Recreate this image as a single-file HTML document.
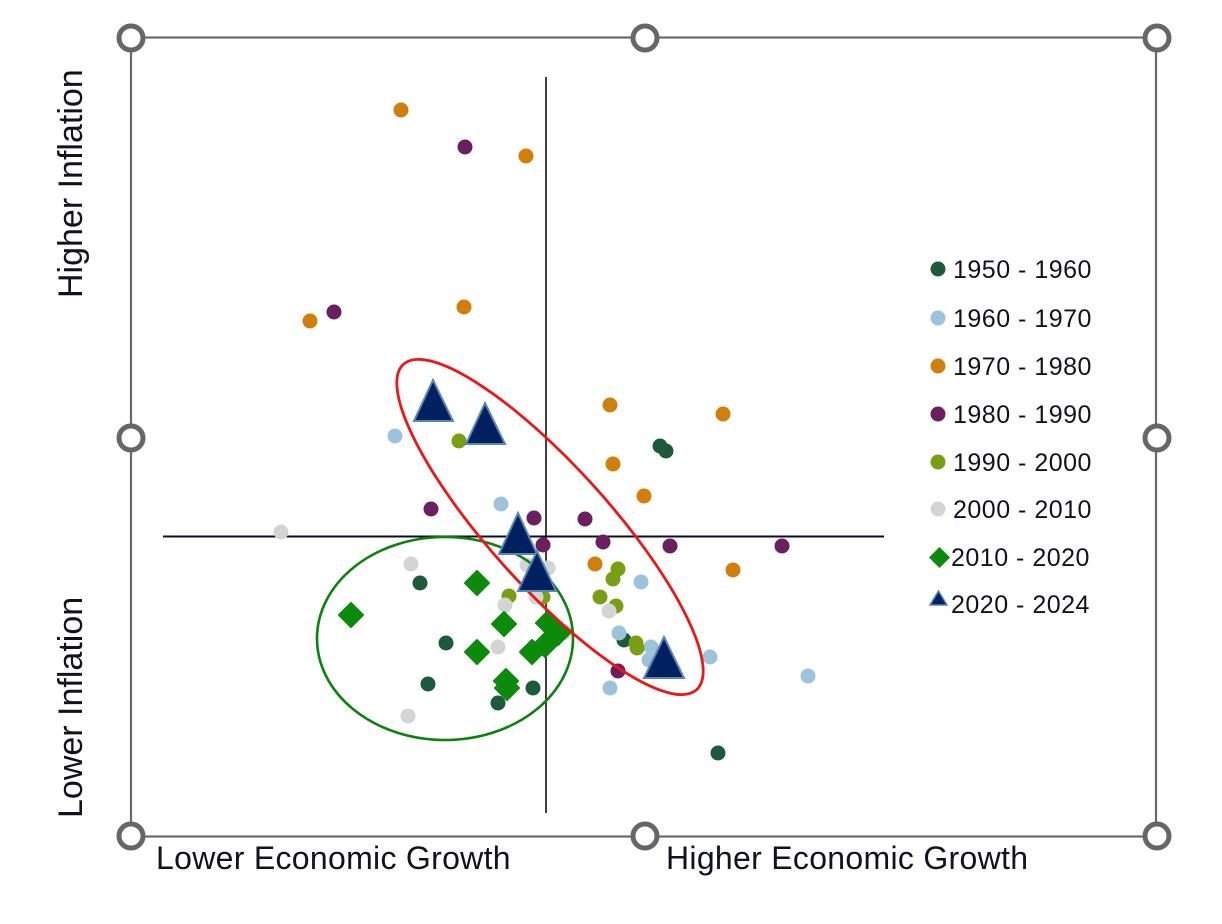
<!DOCTYPE html>
<html>
<head>
<meta charset="utf-8">
<style>
  html,body{margin:0;padding:0;background:#fff;}
  svg{display:block;}
  text{font-family:"Liberation Sans", Arial, sans-serif;fill:#12121f;}
</style>
</head>
<body>
<svg width="1222" height="924" viewBox="0 0 1222 924" xmlns="http://www.w3.org/2000/svg">
  <rect width="1222" height="924" fill="#fff"/>

  <!-- frame -->
  <rect x="131" y="37.5" width="1025" height="799" fill="none" stroke="#696969" stroke-width="2.2"/>

  <!-- quadrant axes -->
  <line x1="546" y1="77" x2="546" y2="813" stroke="#111" stroke-width="1.6"/>
  <line x1="163" y1="536.5" x2="884" y2="536.5" stroke="#0c0c2a" stroke-width="2"/>

  <!-- dots: 1950-1960 dark green -->
  <g fill="#1d5a3c">
    <circle cx="660" cy="446" r="7.5"/><circle cx="666" cy="451" r="7.5"/>
    <circle cx="420" cy="583" r="7.5"/><circle cx="446" cy="643" r="7.5"/>
    <circle cx="428" cy="684" r="7.5"/><circle cx="498" cy="703" r="7.5"/>
    <circle cx="533" cy="688" r="7.5"/><circle cx="624" cy="640" r="7.5"/>
    <circle cx="718" cy="753" r="7.5"/>
  </g>
  <!-- 1960-1970 light blue -->
  <g fill="#9cc3da">
    <circle cx="395" cy="436" r="7.5"/><circle cx="501" cy="504" r="7.5"/>
    <circle cx="641" cy="582" r="7.5"/><circle cx="619" cy="633" r="7.5"/>
    <circle cx="651" cy="647" r="7.5"/><circle cx="649" cy="660" r="7.5"/>
    <circle cx="610" cy="688" r="7.5"/><circle cx="710" cy="657" r="7.5"/>
    <circle cx="808" cy="676" r="7.5"/>
  </g>
  <!-- 1970-1980 orange -->
  <g fill="#d08008">
    <circle cx="401" cy="110" r="7.5"/><circle cx="526" cy="156" r="7.5"/>
    <circle cx="310" cy="321" r="7.5"/><circle cx="464" cy="307" r="7.5"/>
    <circle cx="610" cy="405" r="7.5"/><circle cx="723" cy="414" r="7.5"/>
    <circle cx="613" cy="464" r="7.5"/><circle cx="644" cy="496" r="7.5"/>
    <circle cx="595" cy="564" r="7.5"/><circle cx="733" cy="570" r="7.5"/>
  </g>
  <!-- 1980-1990 purple -->
  <g fill="#6b1f5f">
    <circle cx="465" cy="147" r="7.5"/><circle cx="334" cy="312" r="7.5"/>
    <circle cx="431" cy="509" r="7.5"/><circle cx="534" cy="518" r="7.5"/>
    <circle cx="585" cy="519" r="7.5"/><circle cx="543" cy="545" r="7.5"/>
    <circle cx="603" cy="542" r="7.5"/><circle cx="670" cy="546" r="7.5"/>
    <circle cx="782" cy="546" r="7.5"/><circle cx="618" cy="671" r="7.5"/>
  </g>
  <!-- 1990-2000 olive -->
  <g fill="#789f12">
    <circle cx="459" cy="441" r="7.5"/><circle cx="618" cy="569" r="7.5"/>
    <circle cx="613" cy="579" r="7.5"/><circle cx="509" cy="596" r="7.5"/>
    <circle cx="543" cy="597" r="7.5"/><circle cx="600" cy="597" r="7.5"/>
    <circle cx="616" cy="606" r="7.5"/><circle cx="636" cy="643" r="7.5"/>
    <circle cx="637" cy="648" r="7.5"/>
  </g>
  <!-- 2000-2010 grey -->
  <g fill="#d4d4d4">
    <circle cx="281" cy="532" r="7.5"/><circle cx="411" cy="564" r="7.5"/>
    <circle cx="527" cy="565" r="7.5"/><circle cx="548" cy="568" r="7.5"/>
    <circle cx="536" cy="597" r="7.5"/><circle cx="505" cy="605" r="7.5"/>
    <circle cx="609" cy="611" r="7.5"/><circle cx="565" cy="632" r="7.5"/>
    <circle cx="498" cy="647" r="7.5"/><circle cx="408" cy="716" r="7.5"/>
  </g>
  <!-- 2010-2020 diamonds -->
  <g fill="#0b8a0b" stroke="#0b8a0b" stroke-width="2" stroke-linejoin="round">
    <path d="M351 603 L363 615 L351 627 L339 615 Z"/>
    <path d="M477 571 L489 583 L477 595 L465 583 Z"/>
    <path d="M504 612 L516 624 L504 636 L492 624 Z"/>
    <path d="M477 640 L489 652 L477 664 L465 652 Z"/>
    <path d="M548 611 L560 623 L548 635 L536 623 Z"/>
    <path d="M558 621 L570 633 L558 645 L546 633 Z"/>
    <path d="M545 633 L557 645 L545 657 L533 645 Z"/>
    <path d="M532 640 L544 652 L532 664 L520 652 Z"/>
    <path d="M506 669 L518 681 L506 693 L494 681 Z"/>
    <path d="M507 676 L519 688 L507 700 L495 688 Z"/>
  </g>

  <!-- ellipses -->
  <ellipse cx="445" cy="638.5" rx="128" ry="101.5" fill="none" stroke="#0c820c" stroke-width="2.6"/>
  <ellipse cx="550" cy="527" rx="219" ry="60" transform="rotate(48 550 527)" fill="none" stroke="#ee1515" stroke-width="2.8"/>

  <!-- 2020-2024 triangles -->
  <g fill="#002060" stroke="#5a86b5" stroke-width="2" stroke-linejoin="miter">
    <path d="M433 380 L453 421 L414 421 Z"/>
    <path d="M485 403 L505 444 L466 444 Z"/>
    <path d="M518 513 L537 554 L499 554 Z"/>
    <path d="M537 551 L556 591 L518 591 Z"/>
    <path d="M664 637 L684 678 L644 678 Z"/>
  </g>

  <!-- handles -->
  <g fill="#fff" stroke="#666" stroke-width="5">
    <circle cx="131" cy="38" r="12"/>
    <circle cx="645" cy="38" r="12"/>
    <circle cx="1157" cy="38" r="12"/>
    <circle cx="131" cy="438" r="12"/>
    <circle cx="1157" cy="438" r="12"/>
    <circle cx="131" cy="836" r="12"/>
    <circle cx="645" cy="836" r="12"/>
    <circle cx="1157" cy="836" r="12"/>
  </g>

  <!-- legend -->
  <circle cx="938" cy="269" r="7.5" fill="#1d5a3c"/>
  <circle cx="938" cy="318" r="7.5" fill="#9cc3da"/>
  <circle cx="938" cy="366" r="7.5" fill="#d08008"/>
  <circle cx="938" cy="414" r="7.5" fill="#6b1f5f"/>
  <circle cx="938" cy="462" r="7.5" fill="#789f12"/>
  <circle cx="938" cy="509" r="7.5" fill="#d4d4d4"/>
  <path d="M939.5 547 L950 557.5 L939.5 568 L929 557.5 Z" fill="#0b8a0b"/>
  <path d="M938.5 591 L947 605 L930 605 Z" fill="#002060" stroke="#5a86b5" stroke-width="1.5"/>
  <g font-size="25" letter-spacing="0.5">
    <text x="953" y="278">1950 - 1960</text>
    <text x="953" y="327">1960 - 1970</text>
    <text x="953" y="375">1970 - 1980</text>
    <text x="953" y="423">1980 - 1990</text>
    <text x="953" y="471">1990 - 2000</text>
    <text x="953" y="518">2000 - 2010</text>
    <text x="951" y="566">2010 - 2020</text>
    <text x="951" y="613">2020 - 2024</text>
  </g>

  <!-- axis labels -->
  <text x="156" y="869" font-size="32" letter-spacing="0.3">Lower Economic Growth</text>
  <text x="666" y="869" font-size="32" letter-spacing="0.3">Higher Economic Growth</text>
  <text x="82" y="298" font-size="34" transform="rotate(-90 82 298)">Higher Inflation</text>
  <text x="82" y="818" font-size="34" transform="rotate(-90 82 818)">Lower Inflation</text>
</svg>
</body>
</html>
